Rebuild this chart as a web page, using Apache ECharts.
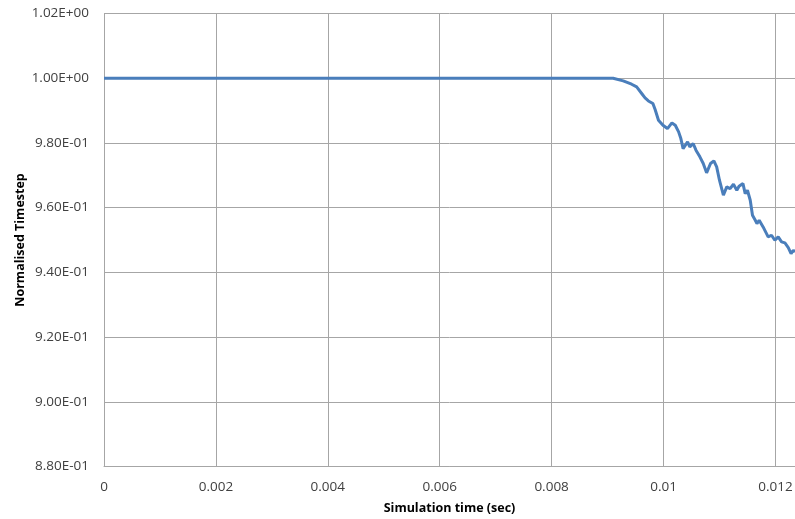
<!DOCTYPE html>
<html>
<head>
<meta charset="utf-8">
<script src="https://cdn.jsdelivr.net/npm/echarts@6/dist/echarts.min.js"></script>
<style>
  html, body { margin: 0; padding: 0; background: #fff; }
  #main { width: 795px; height: 519px; }
</style>
</head>
<body>
<div id="main"></div>
<script>
// 数据：模拟时间 / 归一化时间步
var timeVals = [0, 0.00910, 0.00928, 0.00943, 0.00952, 0.00961, 0.00967, 0.00973, 0.00976, 0.00981,
    0.00985, 0.00991, 0.00999, 0.01007, 0.01015, 0.01021, 0.01027, 0.01031, 0.01035, 0.01043,
    0.01047, 0.01053, 0.01058, 0.01065, 0.01071, 0.01077, 0.01084, 0.01090, 0.01095, 0.01100,
    0.01107, 0.01113, 0.01119, 0.01125, 0.01131, 0.01135, 0.01142, 0.01146, 0.01150, 0.01155,
    0.01159, 0.01164, 0.01167, 0.01171, 0.01178, 0.01187, 0.01193, 0.01199, 0.01205, 0.01211,
    0.01217, 0.01223, 0.01228, 0.01232, 0.01235];
var stepVals = [1.0, 1.0, 0.99917, 0.99815, 0.99731, 0.99527, 0.99391, 0.99298, 0.99341, 0.99218,
    0.99032, 0.98702, 0.98547, 0.98444, 0.98619, 0.98547, 0.98341, 0.98135, 0.97826, 0.98032,
    0.97877, 0.97982, 0.97776, 0.97570, 0.97364, 0.97075, 0.97364, 0.97445, 0.97259, 0.96847,
    0.96384, 0.96641, 0.96590, 0.96723, 0.96538, 0.96661, 0.96744, 0.96435, 0.96538, 0.96229,
    0.95765, 0.95611, 0.95508, 0.95611, 0.95405, 0.95096, 0.95147, 0.94993, 0.95096, 0.94941,
    0.94910, 0.94766, 0.94580, 0.94683, 0.94632];

var data = [];
for (var i = 0; i < timeVals.length; i++) {
    data.push([timeVals[i], stepVals[i]]);
}

function sciLabel(v) {
    // Excel 风格科学计数法：1.00E+00
    var s = v.toExponential(2).toUpperCase();
    var parts = s.split('E');
    var exp = parseInt(parts[1], 10);
    var sign = exp < 0 ? '-' : '+';
    var e = Math.abs(exp);
    return parts[0] + 'E' + sign + (e < 10 ? '0' + e : e);
}

var myChart = echarts.init(document.getElementById('main'));

var font = 'Open Sans';
var option = {
    animation: false,
    grid: { left: 104, right: 0, top: 13.5, bottom: 52.5, outerBoundsMode: 'none' },
    xAxis: {
        type: 'value',
        min: 0,
        max: 0.01235,
        interval: 0.002,
        name: 'Simulation time (sec)',
        nameLocation: 'middle',
        nameGap: 35,
        nameMoveOverlap: false,
        nameTextStyle: { fontFamily: font, fontSize: 12.5, fontWeight: 'bold', color: '#000' },
        axisLine: { lineStyle: { color: '#a6a6a6' } },
        axisTick: { show: false },
        axisLabel: {
            margin: 14,
            fontFamily: font, fontSize: 13.5, color: '#404040',
            showMaxLabel: false,
            formatter: function (v) {
                var k = Math.round(v / 0.002);
                if (Math.abs(v - k * 0.002) > 1e-9) return '';
                return String(+v.toFixed(4));
            }
        },
        splitLine: { show: true, lineStyle: { color: '#a6a6a6', width: 1 } }
    },
    yAxis: {
        type: 'value',
        min: 0.88,
        max: 1.02,
        interval: 0.02,
        name: 'Normalised Timestep',
        nameLocation: 'middle',
        nameGap: 77,
        nameMoveOverlap: false,
        nameTextStyle: { fontFamily: font, fontSize: 12.5, fontWeight: 'bold', color: '#000' },
        axisLine: { show: true, lineStyle: { color: '#a6a6a6' } },
        axisTick: { show: false },
        axisLabel: {
            margin: 15,
            fontFamily: font, fontSize: 13.5, color: '#404040',
            formatter: sciLabel
        },
        splitLine: { show: true, lineStyle: { color: '#a6a6a6', width: 1 } }
    },
    series: [{
        type: 'line',
        data: data,
        showSymbol: false,
        smooth: false,
        lineStyle: { color: '#4a7ebb', width: 3 },
        itemStyle: { color: '#4a7ebb' }
    }]
};

myChart.setOption(option);
</script>
</body>
</html>
